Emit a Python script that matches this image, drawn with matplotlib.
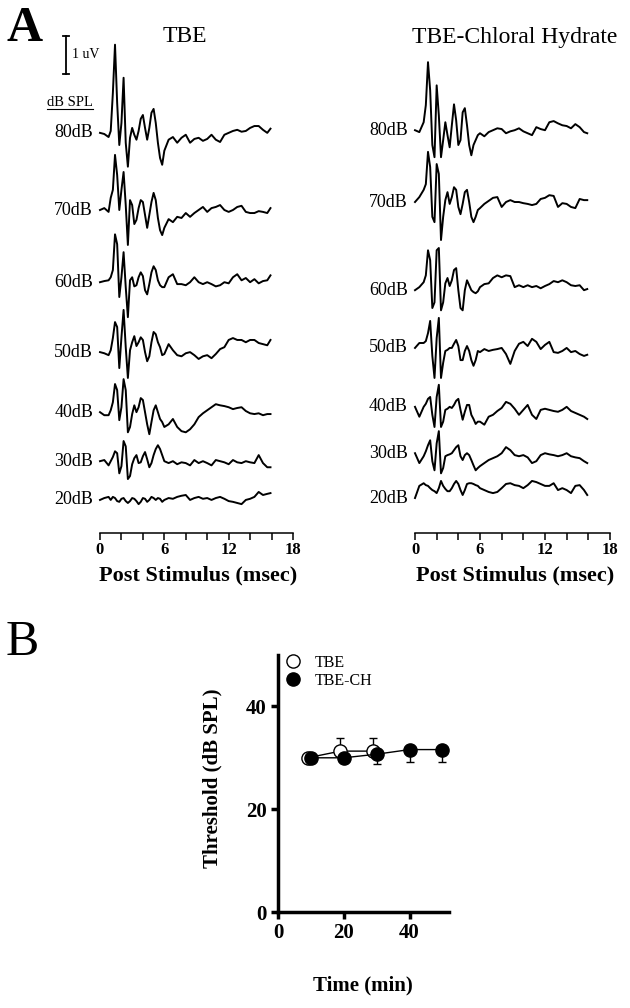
import numpy as np
import matplotlib.pyplot as plt
from matplotlib.lines import Line2D

plt.rcParams['font.family'] = ['Liberation Serif', 'DejaVu Serif']

# ---- Panel A: ABR traces (time in msec, amplitude in uV) ----
t_ms = [0, 0.4, 0.8, 1.0, 1.2, 1.4, 1.6, 1.8, 2.0, 2.2, 2.4, 2.6, 2.8,
        3.0, 3.2, 3.4, 3.6, 3.8, 4.0, 4.2, 4.4, 4.6, 4.8, 5.0, 5.2, 5.4,
        5.6, 5.8, 6.0, 6.4, 6.8, 7.2, 7.6, 8.0, 8.4, 8.8, 9.2, 9.6, 10.0,
        10.4, 10.8, 11.2, 11.6, 12.0, 12.4, 12.8, 13.2, 13.6, 14.0, 14.4,
        14.8, 15.2, 15.6, 15.9]

levels = ['80dB', '70dB', '60dB', '50dB', '40dB', '30dB', '20dB']

tbe_80 = [0, -0.03, -0.11, 0.05, 1.05, 2.32, 0.79, -0.32, 0.26, 1.45, -0.26, -0.89, -0.13,
          0.13, -0.05, -0.18, 0.05, 0.37, 0.47, 0.13, -0.18, 0.13, 0.53, 0.63, 0.26, -0.26,
          -0.66, -0.84, -0.47, -0.18, -0.11, -0.26, -0.13, -0.05, -0.26, -0.16, -0.13, -0.21, -0.16,
          -0.05, -0.18, -0.24, -0.05, 0, 0.05, 0.08, 0.03, 0.05, 0.13, 0.18, 0.18, 0.08, 0, 0.11]
tbe_70 = [0, 0.05, -0.05, 0.32, 0.53, 1.45, 0.92, 0, 0.53, 1.0, 0.13, -0.92, 0.26,
          0.13, -0.37, -0.26, 0.05, 0.26, 0.21, -0.13, -0.47, -0.13, 0.21, 0.45, 0.26, -0.21,
          -0.53, -0.66, -0.47, -0.24, -0.32, -0.18, -0.21, -0.08, -0.18, -0.08, 0, 0.08, -0.05,
          0.05, 0.08, 0.13, 0, -0.05, 0, 0.08, 0.11, -0.05, -0.08, -0.08, -0.03, -0.05, -0.08, 0.05]
tbe_60 = [0, 0.03, 0.05, 0.13, 0.32, 1.26, 1.0, -0.39, 0.13, 0.79, -0.13, -0.92, 0.05,
          0.13, -0.11, -0.08, 0.13, 0.26, 0.16, -0.21, -0.32, -0.05, 0.26, 0.42, 0.32, 0.05,
          -0.08, -0.13, -0.13, 0.13, 0.21, -0.05, -0.05, -0.08, 0, 0.13, 0, -0.05, 0,
          -0.05, -0.11, -0.08, 0, -0.03, 0.13, 0.21, 0.05, 0.11, 0, 0.08, -0.03, 0.03, 0.05, 0.18]
tbe_50 = [0, -0.03, -0.08, 0.05, 0.37, 0.79, 0.66, -0.42, 0.39, 1.11, 0.13, -0.68, 0.05,
          0.26, 0.42, 0.16, 0.26, 0.39, 0.32, 0, -0.24, -0.11, 0.26, 0.53, 0.47, 0.26,
          0.13, -0.08, -0.05, 0.21, 0.05, -0.08, -0.11, -0.03, 0, -0.08, -0.18, -0.11, -0.08,
          -0.16, -0.05, 0.08, 0.13, 0.32, 0.37, 0.32, 0.32, 0.26, 0.32, 0.32, 0.24, 0.21, 0.18, 0.32]
tbe_40 = [0, -0.08, -0.08, 0.05, 0.26, 0.74, 0.58, -0.21, 0.13, 0.87, 0.58, -0.53, -0.39,
          -0.05, 0.18, 0, 0.13, 0.37, 0.32, 0, -0.32, -0.58, -0.26, 0.05, 0.18, 0,
          -0.18, -0.26, -0.39, -0.32, -0.18, -0.39, -0.5, -0.53, -0.45, -0.32, -0.13, -0.03, 0.05,
          0.13, 0.21, 0.18, 0.16, 0.13, 0.08, 0.11, 0.13, 0.03, -0.03, -0.05, -0.03, -0.08, -0.05, -0.05]
tbe_30 = [0, 0.03, -0.11, 0, 0.11, 0.26, 0.21, -0.32, -0.13, 0.53, 0.39, -0.47, -0.39,
          -0.08, 0.08, 0.16, -0.05, -0.03, 0.13, 0.24, 0.05, -0.16, -0.05, 0.16, 0.32, 0.42,
          0.32, 0.16, 0, -0.05, 0, -0.08, -0.03, -0.05, -0.11, 0.03, -0.05, 0, -0.05,
          -0.11, 0.03, 0, -0.03, -0.08, 0.03, -0.03, -0.05, 0, -0.03, -0.05, 0.16, -0.05, -0.16, -0.16]
tbe_20 = [0, 0.05, 0.08, 0, 0.08, 0.05, -0.03, -0.05, 0.03, 0.05, -0.03, -0.08, -0.03,
          0.05, 0.03, -0.03, -0.11, -0.05, 0.05, 0.03, -0.05, 0, 0.08, 0.05, 0, 0.05,
          0.03, -0.05, 0, 0.05, 0.03, 0.08, 0.11, 0.13, 0, 0.05, 0.08, 0.03, 0.05,
          0, 0.05, 0.08, 0.03, -0.03, -0.05, -0.08, -0.11, 0, 0.03, 0.08, 0.21, 0.13, 0.16, 0.18]

ch_80 = [0, -0.05, 0.21, 0.66, 1.79, 1.05, -0.39, -0.71, 1.18, 0.39, -0.71, -0.26, 0.21,
         -0.13, -0.45, 0.13, 0.68, 0.26, -0.39, -0.26, 0.47, 0.58, 0.13, -0.39, -0.66, -0.39,
         -0.26, -0.13, -0.08, -0.16, -0.05, 0, 0.05, 0.03, -0.08, -0.03, 0, 0.05, -0.03,
         -0.08, -0.13, 0.08, 0.03, 0, 0.21, 0.24, 0.18, 0.13, 0.11, 0.05, 0.16, 0.08, -0.05, -0.08]
ch_70 = [0, 0.13, 0.32, 0.47, 1.32, 0.92, -0.39, -0.53, 1.0, 0.74, -1.0, -0.39, 0.05,
         0.26, -0.05, 0.13, 0.39, 0.32, -0.13, -0.32, -0.05, 0.26, 0.32, 0, -0.39, -0.53,
         -0.39, -0.21, -0.16, -0.05, 0.03, 0.11, 0.13, -0.13, 0, 0.05, 0, 0, -0.03,
         -0.05, -0.08, -0.05, 0.08, 0.11, 0.18, 0.16, -0.13, -0.03, -0.05, -0.13, -0.16, 0.08, 0.05, 0.05]
ch_60 = [0, 0.08, 0.21, 0.39, 1.05, 0.79, -0.47, -0.32, 1.05, 1.11, -0.53, -0.32, 0.18,
         0.32, 0.11, 0.26, 0.53, 0.58, 0, -0.47, -0.53, 0, 0.26, 0.13, 0, -0.05,
         -0.08, -0.03, 0.08, 0.16, 0.18, 0.32, 0.39, 0.34, 0.39, 0.37, 0.08, 0.13, 0.08,
         0.13, 0.08, 0.11, 0.05, 0.11, 0.16, 0.24, 0.21, 0.26, 0.21, 0.13, 0.11, 0.13, 0, 0.03]
ch_50 = [0, 0.13, 0.13, 0.18, 0.39, 0.71, -0.21, -0.79, 0.26, 0.79, -0.79, -0.39, -0.08,
         -0.05, 0, 0, 0.11, 0.21, 0.05, -0.32, -0.32, -0.08, 0.05, -0.08, -0.32, -0.47,
         -0.32, -0.08, -0.11, -0.03, -0.08, -0.05, -0.03, 0, -0.16, -0.42, -0.08, 0.11, 0.16,
         0.05, 0.24, 0.16, -0.03, 0.08, 0.16, -0.11, -0.13, -0.08, 0, -0.11, -0.08, -0.16, -0.21, -0.18]
ch_40 = [0, -0.26, 0, 0.08, 0.21, 0.26, -0.21, -0.53, 0.26, 0.58, -0.53, -0.39, -0.08,
         -0.05, 0, -0.03, 0.05, 0.16, 0.21, -0.08, -0.34, -0.13, 0.05, 0.05, -0.21, -0.32,
         -0.45, -0.39, -0.39, -0.47, -0.26, -0.21, -0.11, -0.03, 0.13, 0.08, -0.05, -0.21, -0.08,
         0.05, -0.21, -0.32, -0.08, -0.05, -0.08, -0.11, -0.13, -0.08, 0, -0.11, -0.16, -0.21, -0.26, -0.32]
ch_30 = [0, -0.26, -0.08, 0.05, 0.21, 0.34, -0.21, -0.45, 0.26, 0.58, -0.53, -0.39, -0.08,
         -0.05, -0.03, 0, 0.08, 0.16, 0.21, -0.08, -0.18, -0.05, 0, -0.05, -0.18, -0.32,
         -0.45, -0.39, -0.34, -0.26, -0.18, -0.13, -0.08, 0, 0.16, 0.08, -0.05, -0.08, -0.05,
         -0.11, -0.26, -0.21, -0.05, 0, -0.03, -0.05, -0.08, -0.05, 0, -0.08, -0.11, -0.13, -0.21, -0.26]
ch_20 = [0, 0.32, 0.39, 0.34, 0.32, 0.26, 0.21, 0.18, 0.13, 0.26, 0.45, 0.32, 0.24,
         0.18, 0.18, 0.26, 0.37, 0.45, 0.37, 0.21, 0.08, 0.21, 0.37, 0.39, 0.39, 0.37,
         0.34, 0.32, 0.26, 0.21, 0.16, 0.13, 0.16, 0.26, 0.37, 0.39, 0.34, 0.32, 0.26,
         0.34, 0.45, 0.42, 0.37, 0.32, 0.32, 0.39, 0.21, 0.26, 0.21, 0.13, 0.32, 0.34, 0.21, 0.08]

tbe_traces = [tbe_80, tbe_70, tbe_60, tbe_50, tbe_40, tbe_30, tbe_20]
ch_traces = [ch_80, ch_70, ch_60, ch_50, ch_40, ch_30, ch_20]

# vertical stacking of the traces (uV above the time axis)
tbe_base = [10.53, 8.5, 6.6, 4.76, 3.18, 1.89, 0.87]
ch_base = [10.6, 8.71, 6.39, 4.87, 3.32, 2.1, 0.92]

scale_uv = 1.0

# ---- Panel B: threshold vs time ----
tbe_time = [9, 19, 29]
tbe_thr = [30.0, 31.3, 31.3]
tbe_err_up = [0, 2.5, 2.5]
ch_time = [10, 20, 30, 40, 50]
ch_thr = [30.0, 30.0, 30.7, 31.6, 31.6]
ch_err_dn = [0, 0, 2.0, 2.5, 2.5]

W, H = 630, 1008
fig = plt.figure(figsize=(W / 100, H / 100), dpi=100)


def px(x, y):
    return x / W, 1 - y / H


def trace_panel(left_px, width_px, traces, bases):
    ax = fig.add_axes([left_px / W, 1 - 533 / H, width_px / W, 518 / H])
    for y, b, lab in zip(traces, bases, levels):
        ax.plot(t_ms, np.array(y) + b, color='black', lw=1.4, clip_on=False)
        ax.text(-0.65, b, lab, ha='right', va='center', fontsize=13)
    ax.set_xlim(0, 18)
    ax.set_ylim(0, 518 / 38)
    for s in ['top', 'right', 'left']:
        ax.spines[s].set_visible(False)
    ax.spines['bottom'].set_linewidth(1.1)
    ax.set_yticks([])
    ax.set_xticks([0, 6, 12, 18])
    ax.set_xticks(np.arange(0, 19, 2), minor=True)
    ax.tick_params(axis='x', which='both', direction='out', length=5, width=1.1,
                   labelsize=12, pad=1.5)
    for lab in ax.get_xticklabels():
        lab.set_fontweight('bold')
    return ax


axL = trace_panel(100, 193, tbe_traces, tbe_base)
axR = trace_panel(415, 195, ch_traces, ch_base)

# 1 uV scale bar
xb = -3.17
yb = 12.08
axL.plot([xb, xb], [yb, yb + scale_uv], color='black', lw=1.3, clip_on=False)
axL.plot([xb - 0.3, xb + 0.3], [yb, yb], color='black', lw=1.3, clip_on=False)
axL.plot([xb - 0.3, xb + 0.3], [yb + scale_uv] * 2, color='black', lw=1.3, clip_on=False)
axL.text(xb + 0.55, yb + scale_uv / 2, '1 uV', ha='left', va='center', fontsize=10)

fig.text(*px(70, 102), 'dB SPL', ha='center', va='center', fontsize=10.5)
fig.add_artist(Line2D([47 / W, 93 / W], [1 - 109 / H] * 2, color='black', lw=0.8))

fig.text(*px(25, 29), 'A', ha='center', va='center', fontsize=36, fontweight='bold')
fig.text(*px(185, 37), 'TBE', ha='center', va='center', fontsize=17)
fig.text(*px(515, 37), 'TBE-Chloral Hydrate', ha='center', va='center', fontsize=17)
fig.text(*px(198, 575), 'Post Stimulus (msec)', ha='center', va='center',
         fontsize=16, fontweight='bold')
fig.text(*px(515, 575), 'Post Stimulus (msec)', ha='center', va='center',
         fontsize=16, fontweight='bold')

# ---- Panel B ----
fig.text(*px(22, 643), 'B', ha='center', va='center', fontsize=36)
axB = fig.add_axes([278 / W, 1 - 912 / H, 171 / W, 257 / H])
axB.errorbar(tbe_time, tbe_thr, yerr=[[0] * len(tbe_err_up), tbe_err_up],
             fmt='-o', color='black', mfc='white', mec='black', ms=9.5, mew=1,
             lw=1, elinewidth=1, capsize=3, capthick=1, zorder=2, clip_on=False)
axB.errorbar(ch_time, ch_thr, yerr=[ch_err_dn, [0] * len(ch_err_dn)],
             fmt='-o', color='black', mfc='black', mec='black', ms=9.5, mew=1,
             lw=1, elinewidth=1, capsize=3, capthick=1, zorder=3, clip_on=False)
axB.set_xlim(0, 52)
axB.set_ylim(0, 50)
axB.set_xticks([0, 20, 40])
axB.set_yticks([0, 20, 40])
for s in ['top', 'right']:
    axB.spines[s].set_visible(False)
for s in ['left', 'bottom']:
    axB.spines[s].set_linewidth(2.5)
axB.tick_params(direction='out', length=5, width=2.5, labelsize=15, pad=3)
for lab in axB.get_xticklabels() + axB.get_yticklabels():
    lab.set_fontweight('bold')

handles = [Line2D([], [], ls='none', marker='o', ms=9.5, mfc='white', mec='black'),
           Line2D([], [], ls='none', marker='o', ms=9.5, mfc='black', mec='black')]
axB.legend(handles, ['TBE', 'TBE-CH'], loc='upper left', bbox_to_anchor=(0.04, 1.0),
           frameon=False, fontsize=11.5, handlelength=1.0, handletextpad=0.9,
           labelspacing=0.12, borderpad=0, borderaxespad=0)

fig.text(*px(212, 778), 'Threshold (dB SPL)', ha='center', va='center', rotation=90,
         fontsize=15, fontweight='bold')
fig.text(*px(363, 985), 'Time (min)', ha='center', va='center',
         fontsize=15, fontweight='bold')

fig.savefig('out.png', dpi=100)
